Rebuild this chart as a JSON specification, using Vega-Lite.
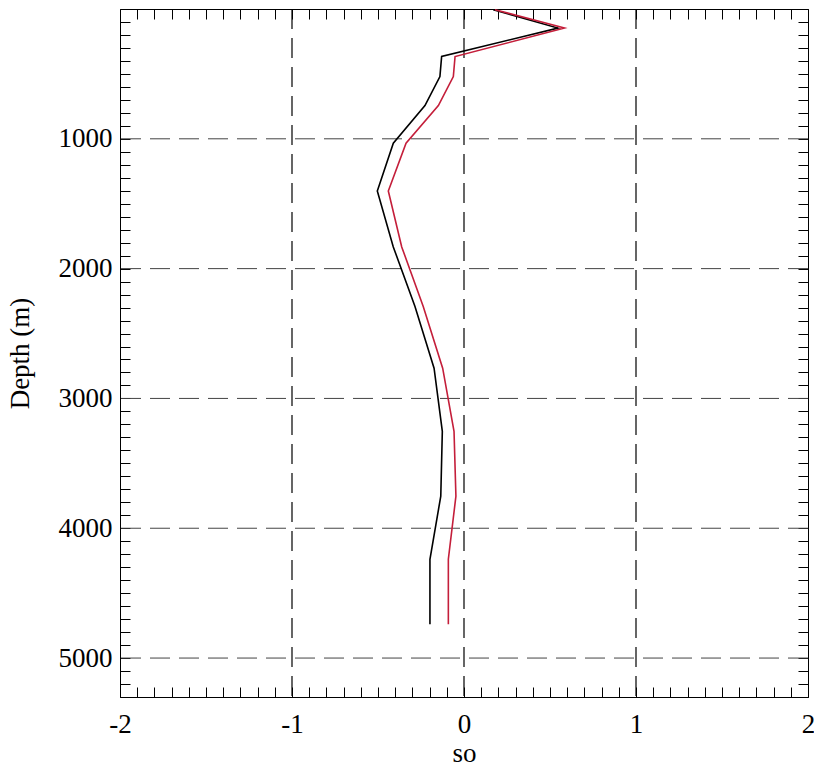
{
  "$schema": "https://vega.github.io/schema/vega-lite/v6.json",
  "width": 688,
  "height": 688,
  "autosize": {"type": "none"},
  "padding": {"left": 120, "top": 9, "right": 6, "bottom": 72},
  "config": {
    "view": {"stroke": "#000", "strokeWidth": 1},
    "font": "Liberation Serif",
    "axis": {
      "domain": false,
      "grid": false,
      "ticks": true,
      "tickColor": "#000",
      "tickWidth": 1,
      "tickSize": -10,
      "labelFont": "Liberation Serif",
      "labelFontSize": 27,
      "labelColor": "#000",
      "labelOverlap": false,
      "labelFlush": false,
      "titleFont": "Liberation Serif",
      "titleFontSize": 27,
      "titleFontWeight": "normal",
      "titleColor": "#000"
    }
  },
  "datasets": {
    "profiles": [
      {"series": "a", "depth": 5, "so": 0.17},
      {"series": "a", "depth": 147, "so": 0.546},
      {"series": "a", "depth": 366, "so": -0.13},
      {"series": "a", "depth": 521, "so": -0.14},
      {"series": "a", "depth": 744, "so": -0.227},
      {"series": "a", "depth": 1034, "so": -0.411},
      {"series": "a", "depth": 1402, "so": -0.504},
      {"series": "a", "depth": 1833, "so": -0.411},
      {"series": "a", "depth": 2292, "so": -0.285},
      {"series": "a", "depth": 2767, "so": -0.174},
      {"series": "a", "depth": 3253, "so": -0.126},
      {"series": "a", "depth": 3753, "so": -0.135},
      {"series": "a", "depth": 4239, "so": -0.198},
      {"series": "a", "depth": 4739, "so": -0.198},
      {"series": "b", "depth": 5, "so": 0.18},
      {"series": "b", "depth": 147, "so": 0.584},
      {"series": "b", "depth": 366, "so": -0.052},
      {"series": "b", "depth": 521, "so": -0.062},
      {"series": "b", "depth": 744, "so": -0.149},
      {"series": "b", "depth": 1034, "so": -0.337},
      {"series": "b", "depth": 1402, "so": -0.44},
      {"series": "b", "depth": 1833, "so": -0.362},
      {"series": "b", "depth": 2292, "so": -0.237},
      {"series": "b", "depth": 2767, "so": -0.124},
      {"series": "b", "depth": 3253, "so": -0.058},
      {"series": "b", "depth": 3753, "so": -0.047},
      {"series": "b", "depth": 4239, "so": -0.091},
      {"series": "b", "depth": 4739, "so": -0.091}
    ],
    "gridx": [{"v": -1}, {"v": 0}, {"v": 1}],
    "gridy": [{"v": 1000}, {"v": 2000}, {"v": 3000}, {"v": 4000}, {"v": 5000}]
  },
  "layer": [
    {
      "data": {"name": "gridx"},
      "mark": {"type": "rule", "color": "#000", "strokeWidth": 1.2, "strokeDash": [20, 9]},
      "encoding": {
        "x": {
          "field": "v",
          "type": "quantitative",
          "scale": {"domain": [-2, 2], "nice": false, "zero": false},
          "axis": {
            "orient": "top",
            "title": null,
            "labels": false,
            "values": [-2, -1.9, -1.8, -1.7, -1.6, -1.5, -1.4, -1.3, -1.2, -1.1, -1, -0.9, -0.8, -0.7, -0.6, -0.5, -0.4, -0.3, -0.2, -0.1, 0, 0.1, 0.2, 0.3, 0.4, 0.5, 0.6, 0.7, 0.8, 0.9, 1, 1.1, 1.2, 1.3, 1.4, 1.5, 1.6, 1.7, 1.8, 1.9, 2]
          }
        }
      }
    },
    {
      "data": {"name": "gridy"},
      "mark": {"type": "rule", "color": "#444", "strokeWidth": 1, "strokeDash": [20, 9]},
      "encoding": {
        "y": {
          "field": "v",
          "type": "quantitative",
          "scale": {"domain": [0, 5300], "reverse": true, "nice": false, "zero": false},
          "axis": {
            "orient": "right",
            "title": null,
            "labels": false,
            "values": [0, 100, 200, 300, 400, 500, 600, 700, 800, 900, 1000, 1100, 1200, 1300, 1400, 1500, 1600, 1700, 1800, 1900, 2000, 2100, 2200, 2300, 2400, 2500, 2600, 2700, 2800, 2900, 3000, 3100, 3200, 3300, 3400, 3500, 3600, 3700, 3800, 3900, 4000, 4100, 4200, 4300, 4400, 4500, 4600, 4700, 4800, 4900, 5000, 5100, 5200, 5300]
          }
        }
      }
    },
    {
      "data": {"name": "profiles"},
      "mark": {"type": "line", "strokeWidth": 1.6},
      "encoding": {
        "x": {
          "field": "so",
          "type": "quantitative",
          "scale": {"domain": [-2, 2], "nice": false, "zero": false},
          "axis": {
            "orient": "bottom",
            "title": "so",
            "titlePadding": 3,
            "labelPadding": 24,
            "values": [-2, -1.9, -1.8, -1.7, -1.6, -1.5, -1.4, -1.3, -1.2, -1.1, -1, -0.9, -0.8, -0.7, -0.6, -0.5, -0.4, -0.3, -0.2, -0.1, 0, 0.1, 0.2, 0.3, 0.4, 0.5, 0.6, 0.7, 0.8, 0.9, 1, 1.1, 1.2, 1.3, 1.4, 1.5, 1.6, 1.7, 1.8, 1.9, 2],
            "labelExpr": "abs(datum.value - round(datum.value)) < 1e-6 ? (datum.value < -0.5 ? '-' + abs(round(datum.value)) : '' + round(datum.value)) : ''"
          }
        },
        "y": {
          "field": "depth",
          "type": "quantitative",
          "scale": {"domain": [0, 5300], "reverse": true, "nice": false, "zero": false},
          "axis": {
            "orient": "left",
            "title": "Depth (m)",
            "titlePadding": 24,
            "labelPadding": 18,
            "values": [0, 100, 200, 300, 400, 500, 600, 700, 800, 900, 1000, 1100, 1200, 1300, 1400, 1500, 1600, 1700, 1800, 1900, 2000, 2100, 2200, 2300, 2400, 2500, 2600, 2700, 2800, 2900, 3000, 3100, 3200, 3300, 3400, 3500, 3600, 3700, 3800, 3900, 4000, 4100, 4200, 4300, 4400, 4500, 4600, 4700, 4800, 4900, 5000, 5100, 5200, 5300],
            "labelExpr": "(datum.value % 1000 === 0 && datum.value > 0) ? '' + datum.value : ''"
          }
        },
        "color": {
          "field": "series",
          "type": "nominal",
          "scale": {"domain": ["a", "b"], "range": ["#000000", "#c41e3a"]},
          "legend": null
        },
        "order": {"field": "depth", "type": "quantitative"}
      }
    }
  ],
  "resolve": {"axis": {"x": "independent", "y": "independent"}}
}
